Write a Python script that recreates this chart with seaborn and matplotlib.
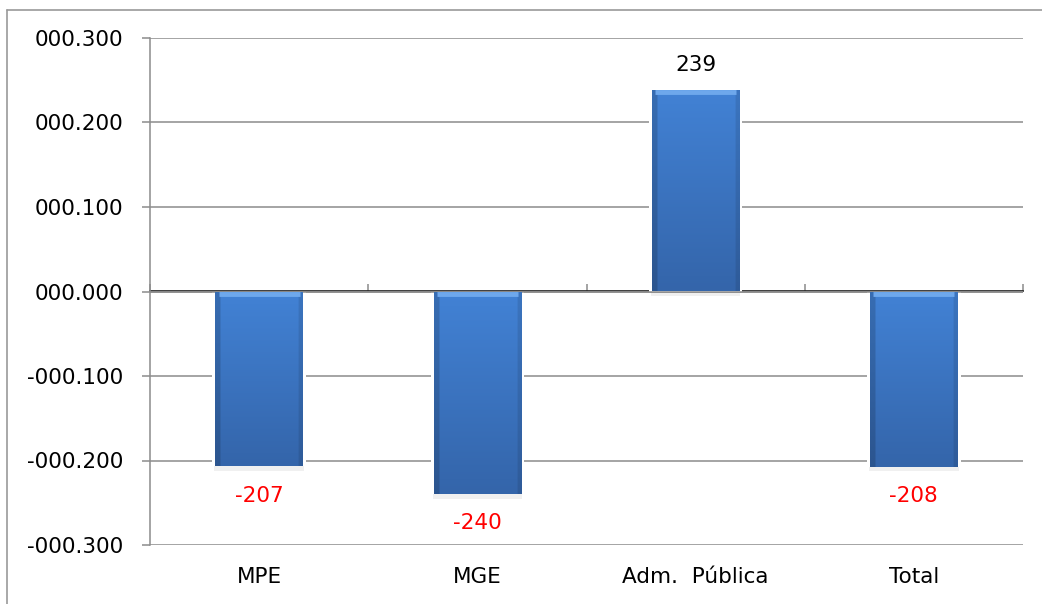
import numpy as np
import pandas as pd
import matplotlib
matplotlib.use('Agg')
import matplotlib.pyplot as plt
from matplotlib.lines import Line2D
from matplotlib.colors import to_rgb
import seaborn as sns

# chart data
categories = ['MPE', 'MGE', 'Adm.  Pública', 'Total']
values = [-207, -240, 239, -208]
y_ticks = [-300, -200, -100, 0, 100, 200, 300]

df = pd.DataFrame({'categoria': categories, 'valor': values})

sns.set_theme(style='white')
plt.rcParams['font.family'] = ['DejaVu Sans']
plt.rcParams['text.color'] = 'black'
plt.rcParams['xtick.color'] = 'black'
plt.rcParams['ytick.color'] = 'black'

grid_col = '#8c8c8c'
fig = plt.figure(figsize=(10.42, 6.04), dpi=100)
ax = fig.add_axes([150 / 1042, 59 / 604, 873 / 1042, 507 / 604])

sns.barplot(data=df, x='categoria', y='valor', color='#3a72c0', width=0.4,
            saturation=1, ax=ax, zorder=3)

ax.set_ylim(-300, 300)
ax.set_xlim(-0.5, len(categories) - 0.5)

# gradient fill on bars (lighter top, darker bottom and sides)
top_c = np.array(to_rgb('#4282d5'))
bot_c = np.array(to_rgb('#3465aa'))
ny, nx = 120, 80
t = np.linspace(0, 1, ny)[:, None, None]
img = bot_c * (1 - t) + top_c * t
xs = np.linspace(0, 1, nx)
side = np.ones(nx)
side[xs < 0.06] = 0.84
side[xs > 0.95] = 0.9
img = img * side[None, :, None]
img = np.clip(img, 0, 1)

for p in list(ax.patches):
    bb = p.get_bbox()
    x0, x1 = bb.x0, bb.x1
    y0, y1 = min(bb.y0, bb.y1), max(bb.y0, bb.y1)
    # white halo breaking the grid lines + faint shadow under the bar
    ax.add_patch(plt.Rectangle((x0 - 0.014, y0), x1 - x0 + 0.028, y1 - y0,
                               facecolor='white', edgecolor='none', zorder=1.5))
    ax.add_patch(plt.Rectangle((x0 - 0.005, y0 - 5), x1 - x0 + 0.01, 5,
                               facecolor='#000000', alpha=0.06, edgecolor='none', zorder=2))
    p.set_facecolor('none')
    p.set_edgecolor('none')
    im = ax.imshow(img, extent=[x0, x1, y0, y1], origin='lower', aspect='auto',
                   zorder=3, interpolation='bilinear')
    im.set_clip_path(p)
    ax.plot([x0 + 0.015, x1 - 0.015], [y1 - 2.5, y1 - 2.5], color='#6ea8ec', lw=3.5,
            solid_capstyle='butt', zorder=4)

ax.set_ylim(-300, 300)
ax.set_xlim(-0.5, len(categories) - 0.5)

# value labels
for i, v in enumerate(values):
    if v >= 0:
        ax.annotate(str(v), (i, v), xytext=(0, 17.5), textcoords='offset points',
                    ha='center', va='center', fontsize=15.5, color='black')
    else:
        ax.annotate(str(v), (i, v), xytext=(0, -21), textcoords='offset points',
                    ha='center', va='center', fontsize=15.5, color='#ff0000')

# axes styling
ax.set_yticks(y_ticks)
ax.set_yticklabels([('-' if t < 0 else '') + '000.' + f'{abs(t):03d}' for t in y_ticks])
ax.yaxis.grid(True, color=grid_col, lw=1.1, zorder=1)
ax.set_axisbelow(True)
for s in ['top', 'right', 'bottom']:
    ax.spines[s].set_visible(False)
ax.spines['left'].set_color(grid_col)
ax.spines['left'].set_linewidth(1.1)
ax.tick_params(axis='y', length=6, width=1.1, color=grid_col, pad=13,
               labelsize=15.5, left=True, labelcolor='black')
ax.tick_params(axis='x', length=0, pad=16, labelsize=15.5, labelcolor='black')
ax.set_xlabel('')
ax.set_ylabel('')

# category axis line at zero with boundary ticks
ax.axhline(0, color=grid_col, lw=1.1, zorder=2)
sec = ax.secondary_xaxis(0.5)
sec.set_xticks(np.arange(len(categories) + 1) - 0.5)
sec.set_xticklabels([])
sec.tick_params(length=5, width=1.1, color=grid_col)
sec.spines['bottom'].set_visible(False)

# outer chart border
fig.add_artist(Line2D([7 / 1042, 7 / 1042], [0, 1 - 10 / 604], color='#999999',
                      lw=1.2, transform=fig.transFigure))
fig.add_artist(Line2D([7 / 1042, 1], [1 - 10 / 604, 1 - 10 / 604], color='#999999',
                      lw=1.2, transform=fig.transFigure))

fig.savefig('out.png', dpi=100)
